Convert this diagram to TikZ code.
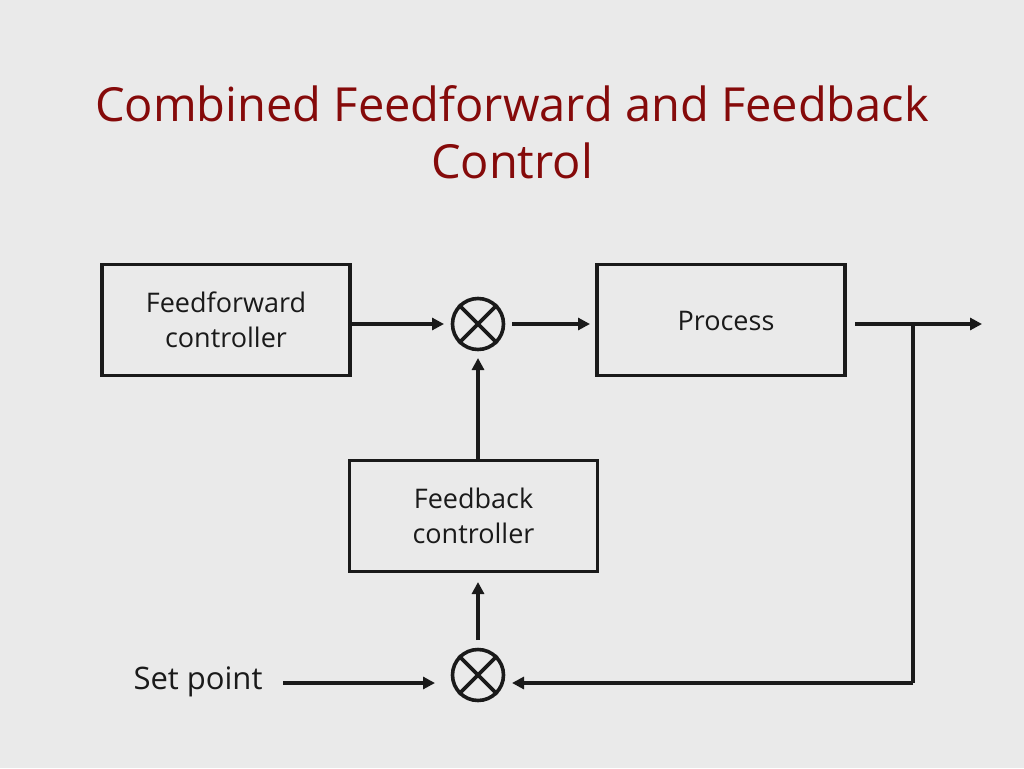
\documentclass[tikz,border=0pt]{standalone}
\usepackage{fontspec}
\setmainfont{Open Sans}
\usetikzlibrary{arrows.meta}
\definecolor{bg}{HTML}{EAEAEA}
\definecolor{titlered}{HTML}{850A0A}
\definecolor{ink}{HTML}{1A1A1A}
\begin{document}
\begin{tikzpicture}[x=1pt,y=-1pt,
  blockbox/.style={draw=ink,line width=3.4pt,minimum width=248pt,minimum height=111pt,inner sep=0pt,align=center,font=\fontsize{27}{35}\selectfont,text=ink},
  sumnode/.style={draw=ink,line width=3.6pt,circle,minimum size=51pt,inner sep=0pt},
  conn/.style={draw=ink,line width=3.4pt,-{Triangle[length=12pt,width=12pt]}},
  plain/.style={draw=ink,line width=3.4pt}]
\useasboundingbox[fill=bg] (0,0) rectangle (1024,768);
\node[text=titlered,align=center,font=\fontsize{47}{57}\selectfont] (title) at (512,132) {Combined Feedforward and Feedback\\Control};
\node[blockbox] (ff) at (226,320) {Feedforward\\controller};
\node[blockbox] (proc) at (721,320) {};
\node[font=\fontsize{27}{35}\selectfont,text=ink] (proclabel) at (726,321) {Process};
\node[blockbox] (fb) at (473.5,516) {Feedback\\controller};
\node[sumnode] (s1) at (478,324) {};
\node[sumnode] (s2) at (478,675) {};
\draw[ink,line width=3.6pt] (s1.45) -- (s1.225) (s1.135) -- (s1.315);
\draw[ink,line width=3.6pt] (s2.45) -- (s2.225) (s2.135) -- (s2.315);
\node[font=\fontsize{31}{36}\selectfont,text=ink,anchor=east] (sp) at (266,682) {Set point};
\coordinate (ffout) at (350,324);
\coordinate (s1in) at (444,324);
\coordinate (s1out) at (512,324);
\coordinate (procin) at (590,324);
\coordinate (procout) at (855,324);
\coordinate (outend) at (982,324);
\coordinate (tap) at (913,324);
\coordinate (tapdown) at (913,683);
\coordinate (s2inR) at (512,683);
\coordinate (spstart) at (283,683);
\coordinate (s2inL) at (435,683);
\coordinate (s2up) at (478,640);
\coordinate (fbin) at (478,582);
\coordinate (fbout) at (478,460);
\coordinate (s1bot) at (478,358);
\draw[conn] (ffout) -- (s1in);
\draw[conn] (s1out) -- (procin);
\draw[conn] (procout) -- (outend);
\draw[plain] (tap) -- (tapdown);
\draw[conn] (tapdown) -- (s2inR);
\draw[conn] (spstart) -- (s2inL);
\draw[conn] (s2up) -- (fbin);
\draw[conn] (fbout) -- (s1bot);
\end{tikzpicture}
\end{document}
